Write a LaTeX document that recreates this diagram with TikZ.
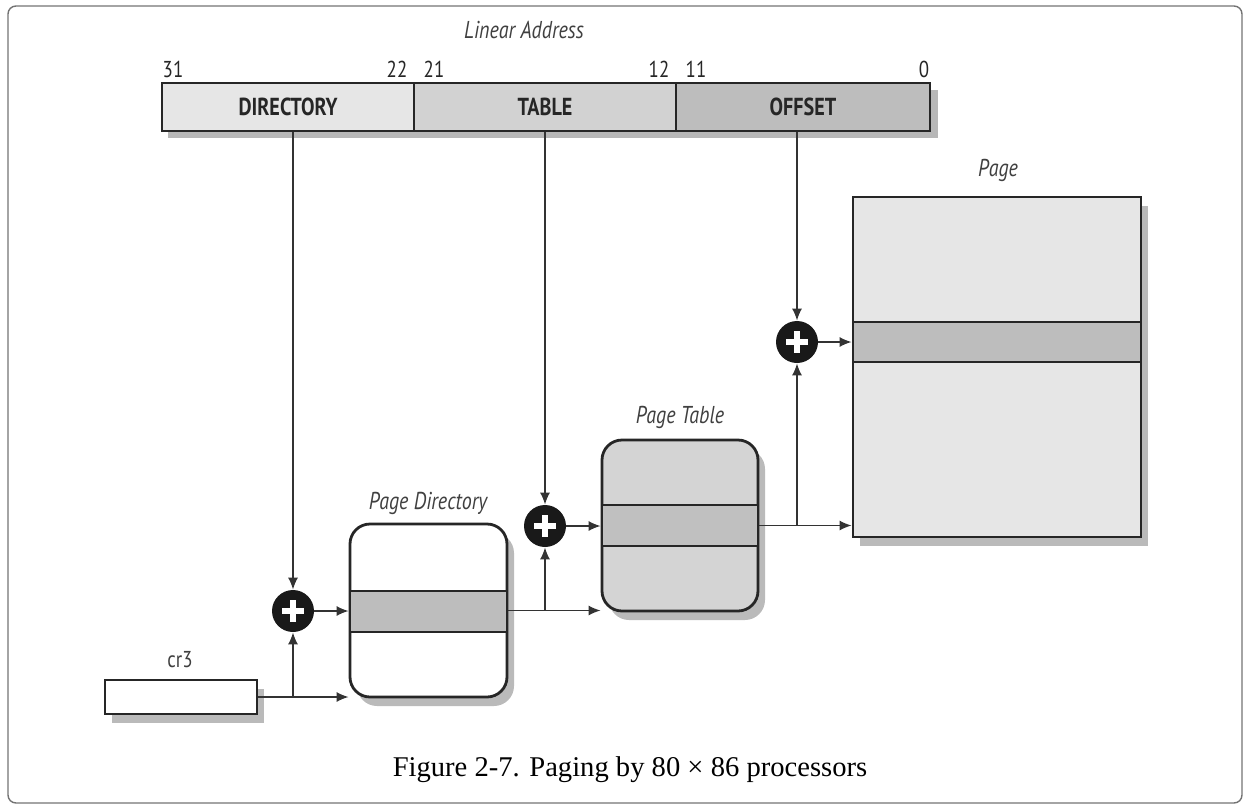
\documentclass[tikz,border=0pt]{standalone}
\usepackage{fontspec}
\setmainfont{Liberation Serif}
\newfontfamily\cond[FakeStretch=0.82]{PT Sans}
\usetikzlibrary{arrows.meta,shadows}
\definecolor{lightf}{HTML}{E6E6E6}
\definecolor{midf}{HTML}{D2D2D2}
\definecolor{darkf}{HTML}{BDBDBD}
\definecolor{ptf}{HTML}{D4D4D4}
\definecolor{ptstripe}{HTML}{C0C0C0}
\tikzset{
  box/.style={draw=black!85, line width=1.4pt},
  shd/.style={drop shadow={shadow xshift=3.5pt, shadow yshift=-4.5pt, fill=black!45, opacity=.6}},
  arr/.style={-{Latex[length=6pt,width=5pt]}, line width=0.7pt, draw=black!80},
  plusnode/.style={circle, fill=black!90, minimum size=21pt, inner sep=0pt,
    path picture={
      \fill[white] (path picture bounding box.center) ++(-5.5pt,-1.7pt) rectangle ++(11pt,3.4pt);
      \fill[white] (path picture bounding box.center) ++(-1.7pt,-5.5pt) rectangle ++(3.4pt,11pt);
    }},
  lbl/.style={font=\cond\itshape\fontsize{12.2}{14}\selectfont, text=black!75},
  num/.style={font=\cond\fontsize{11.5}{13}\selectfont, text=black!85},
  fld/.style={box, inner sep=0pt, minimum height=24pt, font=\cond\bfseries\fontsize{12.3}{14}\selectfont, text=black!85},
}
\begin{document}
\begin{tikzpicture}[x=0.5pt,y=-0.5pt]
\useasboundingbox (0,0) rectangle (1250,810);
\draw[black!55, line width=0.7pt, rounded corners=4pt] (8,6) rectangle (1242,803);

% linear address
\node[lbl] (la) at (524,30) {Linear Address};
\fill[black!40, opacity=.7] (168,90) rectangle (938,138);
\node[fld, fill=lightf, minimum width=126pt] (dir) at (288,107) {DIRECTORY};
\node[fld, fill=midf, minimum width=131pt] (tab) at (545,107) {TABLE};
\node[fld, fill=darkf, minimum width=127pt] (off) at (803,107) {OFFSET};
\node[num] (n31) at (173,69) {31};
\node[num] (n22) at (397,69) {22};
\node[num] (n21) at (434,69) {21};
\node[num] (n12) at (659,69) {12};
\node[num] (n11) at (696,69) {11};
\node[num] (n0) at (924,69) {0};

% cr3
\node[lbl, font=\cond\fontsize{11.5}{13}\selectfont] (cr3l) at (180,660) {cr3};
\node[box, shd, fill=white, minimum width=76pt, minimum height=17pt, inner sep=0pt] (cr3) at (181,697) {};

% page directory
\node[lbl] (pdl) at (428,503) {Page Directory};
\node[box, shd, fill=white, rounded corners=10pt, minimum width=78.5pt, minimum height=86.5pt, inner sep=0pt] (pd) at (428.5,610.5) {};
\fill[darkf] (351.4,591) rectangle (505.6,632);
\draw[box] (350,591) -- (507,591) (350,632) -- (507,632);

% page table
\node[lbl] (ptl) at (680,417) {Page Table};
\node[box, shd, fill=ptf, rounded corners=10pt, minimum width=78pt, minimum height=85.5pt, inner sep=0pt] (pt) at (680,525.5) {};
\fill[ptstripe] (603.4,505) rectangle (756.6,546);
\draw[box] (602,505) -- (758,505) (602,546) -- (758,546);

% page
\node[lbl] (pgl) at (998,170) {Page};
\node[box, shd, fill=lightf, minimum width=144pt, minimum height=170pt, inner sep=0pt] (pg) at (997,367) {};
\fill[darkf] (854.4,322) rectangle (1139.6,362);
\draw[box] (853,322) -- (1141,322) (853,362) -- (1141,362);

% adders
\node[plusnode] (p1) at (293,611) {};
\node[plusnode] (p2) at (545,526) {};
\node[plusnode] (p3) at (797,342) {};

% connectors
\draw[arr] (p1 |- dir.south) -- (p1.north);
\draw[arr] (p2 |- tab.south) -- (p2.north);
\draw[arr] (p3 |- off.south) -- (p3.north);

\draw[arr] (cr3.east) -- (cr3.east -| pd.west);
\draw[arr] (p1 |- cr3.east) -- (p1.south);
\draw[arr] (p1.east) -- (p1 -| pd.west);

\draw[arr] (pd.east) -- (pd.east -| pt.west);
\draw[arr] (p2 |- pd.east) -- (p2.south);
\draw[arr] (p2.east) -- (p2 -| pt.west);

\draw[arr] (pt.east) -- (pt.east -| pg.west);
\draw[arr] (p3 |- pt.east) -- (p3.south);
\draw[arr] (p3.east) -- (p3 -| pg.west);

% caption
\node[font=\fontsize{14.3}{17}\selectfont] (cap) at (630,770) {Figure 2-7. Paging by 80 × 86 processors};
\end{tikzpicture}
\end{document}
